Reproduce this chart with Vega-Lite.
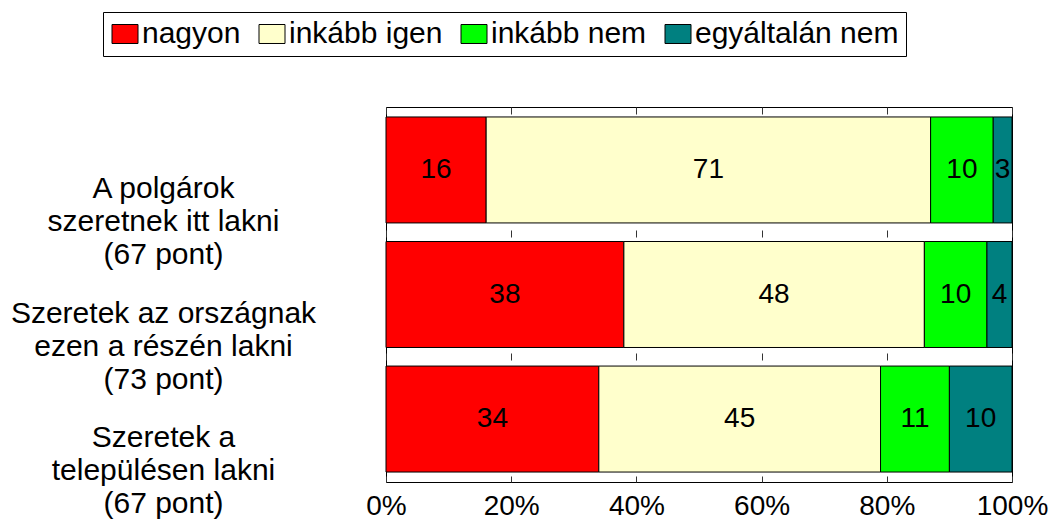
{
  "$schema": "https://vega.github.io/schema/vega-lite/v6.json",
  "width": 626,
  "height": 375,
  "autosize": "none",
  "padding": {"left": 386, "top": 107, "right": 40, "bottom": 48},
  "background": "white",
  "config": {"font": "Liberation Sans", "view": {"stroke": "black", "strokeWidth": 1}},
  "data": {"values": [
    {"q": "A polgárok|szeretnek itt lakni|(67 pont)", "cat": "nagyon", "v": 16},
    {"q": "A polgárok|szeretnek itt lakni|(67 pont)", "cat": "inkább igen", "v": 71},
    {"q": "A polgárok|szeretnek itt lakni|(67 pont)", "cat": "inkább nem", "v": 10},
    {"q": "A polgárok|szeretnek itt lakni|(67 pont)", "cat": "egyáltalán nem", "v": 3},
    {"q": "Szeretek az országnak|ezen a részén lakni|(73 pont)", "cat": "nagyon", "v": 38},
    {"q": "Szeretek az országnak|ezen a részén lakni|(73 pont)", "cat": "inkább igen", "v": 48},
    {"q": "Szeretek az országnak|ezen a részén lakni|(73 pont)", "cat": "inkább nem", "v": 10},
    {"q": "Szeretek az országnak|ezen a részén lakni|(73 pont)", "cat": "egyáltalán nem", "v": 4},
    {"q": "Szeretek a|településen lakni|(67 pont)", "cat": "nagyon", "v": 34},
    {"q": "Szeretek a|településen lakni|(67 pont)", "cat": "inkább igen", "v": 45},
    {"q": "Szeretek a|településen lakni|(67 pont)", "cat": "inkább nem", "v": 11},
    {"q": "Szeretek a|településen lakni|(67 pont)", "cat": "egyáltalán nem", "v": 10}
  ]},
  "transform": [
    {"stack": "v", "groupby": ["q"], "as": ["v0", "v1"]},
    {"calculate": "(datum.v0 + datum.v1) / 2", "as": "mid"}
  ],
  "encoding": {
    "y": {
      "field": "q", "type": "nominal", "sort": null,
      "scale": {"paddingInner": 0.149, "paddingOuter": 0.08},
      "axis": {
        "title": null, "domain": false, "ticks": false,
        "labelAlign": "center", "labelBaseline": "middle",
        "labelPadding": 223, "labelFontSize": 30, "labelLineHeight": 33,
        "labelOffset": 19, "labelExpr": "split(datum.label, '|')",
        "labelColor": "black", "labelLimit": 0
      }
    }
  },
  "layer": [
    {
      "mark": {"type": "bar", "stroke": "black", "strokeWidth": 1},
      "encoding": {
        "x": {
          "field": "v0", "type": "quantitative",
          "scale": {"domain": [0, 100], "nice": false},
          "axis": {
            "title": null, "values": [0, 20, 40, 60, 80, 100],
            "labelExpr": "datum.value + '%'", "labelFontSize": 28,
            "labelColor": "black", "labelPadding": 10, "ticks": false,
            "domain": false, "grid": true, "gridColor": "#333",
            "gridDash": [6, 116, 7, 116, 7, 116, 7], "labelFlush": false
          }
        },
        "x2": {"field": "v1"},
        "color": {
          "field": "cat", "type": "nominal", "sort": null,
          "scale": {
            "domain": ["nagyon", "inkább igen", "inkább nem", "egyáltalán nem"],
            "range": ["#FF0000", "#FFFFCC", "#00FF00", "#008080"]
          },
          "legend": {
            "title": "\u00a0\u00a0\u00a0\u00a0\u00a0\u00a0\u00a0\u00a0\u00a0\u00a0\u00a0\u00a0\u00a0",
            "titleOrient": "right", "titleFontSize": 30,
            "titlePadding": 0, "titleColor": "white",
            "orient": "none", "legendX": -283, "legendY": -95,
            "direction": "horizontal",
            "symbolType": "M-1,-0.73H1V0.73H-1Z", "symbolSize": 676,
            "symbolStrokeColor": "black", "symbolStrokeWidth": 1, "symbolOpacity": 1,
            "labelFontSize": 30, "labelColor": "black", "labelOffset": 2,
            "columnPadding": 16, "padding": 7, "strokeColor": "black",
            "fillColor": "white", "labelLimit": 0
          }
        }
      }
    },
    {
      "mark": {"type": "text", "fontSize": 28, "color": "black", "baseline": "middle"},
      "encoding": {
        "x": {"field": "mid", "type": "quantitative"},
        "text": {"field": "v"}
      }
    }
  ]
}
